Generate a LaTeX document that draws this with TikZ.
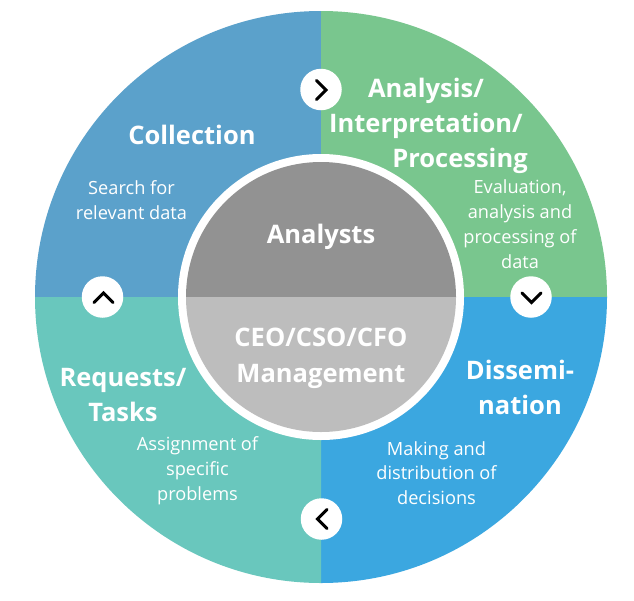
\documentclass[tikz,border=0pt]{standalone}
\usepackage{fontspec}
\setmainfont{Open Sans}
\definecolor{cblue}{HTML}{5BA1CB}
\definecolor{cgreen}{HTML}{79C68E}
\definecolor{csky}{HTML}{3BA7E0}
\definecolor{cteal}{HTML}{69C7BD}
\definecolor{gdark}{HTML}{929292}
\definecolor{glight}{HTML}{BDBDBD}
\tikzset{
  head/.style={text=white,font=\fontsize{25.5}{35}\selectfont\bfseries,align=center,inner sep=0pt},
  core/.style={text=white,font=\fontsize{25.5}{36}\selectfont\bfseries,align=center,inner sep=0pt},
  body/.style={text=white,font=\fontsize{18.2}{24.8}\selectfont,align=center,inner sep=0pt},
  badge/.style={circle,fill=white,minimum size=41.5pt,inner sep=0pt},
  chev/.style={black,line width=2.9pt,line cap=round,line join=miter}
}
\begin{document}
\begin{tikzpicture}[x=1pt,y=-1pt]
\useasboundingbox (0,0) rectangle (634,600);
\fill[white] (0,0) rectangle (634,600);
\coordinate (c) at (321,297);
\fill[cblue] (c) -- (35,297) arc[start angle=180,end angle=90,radius=286pt] -- cycle;
\fill[cgreen] (c) -- (321,11) arc[start angle=90,end angle=0,radius=286pt] -- cycle;
\fill[csky] (c) -- (607,297) arc[start angle=0,end angle=-90,radius=286pt] -- cycle;
\fill[cteal] (c) -- (321,583) arc[start angle=270,end angle=180,radius=286pt] -- cycle;
\fill[white] (c) circle[radius=143pt];
\fill[gdark] (186,297) arc[start angle=180,end angle=0,radius=135pt] -- cycle;
\fill[glight] (186,297) arc[start angle=180,end angle=360,radius=135pt] -- cycle;

\node[core] (analysts) at (321,237) {Analysts};
\node[core] (mgmt) at (321,358) {CEO/CSO/CFO\\Management};

\node[head] (collection) at (192,135) {Collection};
\node[body] (collectionb) at (131.5,200) {Search for\\relevant data};
\node[head,anchor=base] (analysis) at (426,97) {Analysis/};
\node[head,anchor=base] (interp) at (426,132) {Interpretation/};
\node[head,anchor=base] (proc) at (460,167) {Processing};
\node[body] (analysisb) at (520,224) {Evaluation,\\analysis and\\processing of\\data};
\node[head] (diss) at (520,387) {Dissemi-\\nation};
\node[body] (dissb) at (436.5,473) {Making and\\distribution of\\decisions};
\node[head] (req) at (123,395) {Requests/\\Tasks};
\node[body] (reqb) at (197.5,471) {Assignment of\\specific\\problems};

\node[badge] (b1) at (321,89.5) {};
\node[badge] (b2) at (531,297) {};
\node[badge] (b3) at (321.5,519) {};
\node[badge] (b4) at (102.5,297) {};
\draw[chev] (316.5,80.5) -- (326,90) -- (316.5,99.5);
\draw[chev] (522,293) -- (531.5,302.5) -- (541,293);
\draw[chev] (327,509.5) -- (317.5,519) -- (327,528.5);
\draw[chev] (94,302.5) -- (103.5,293) -- (113,302.5);
\end{tikzpicture}
\end{document}
